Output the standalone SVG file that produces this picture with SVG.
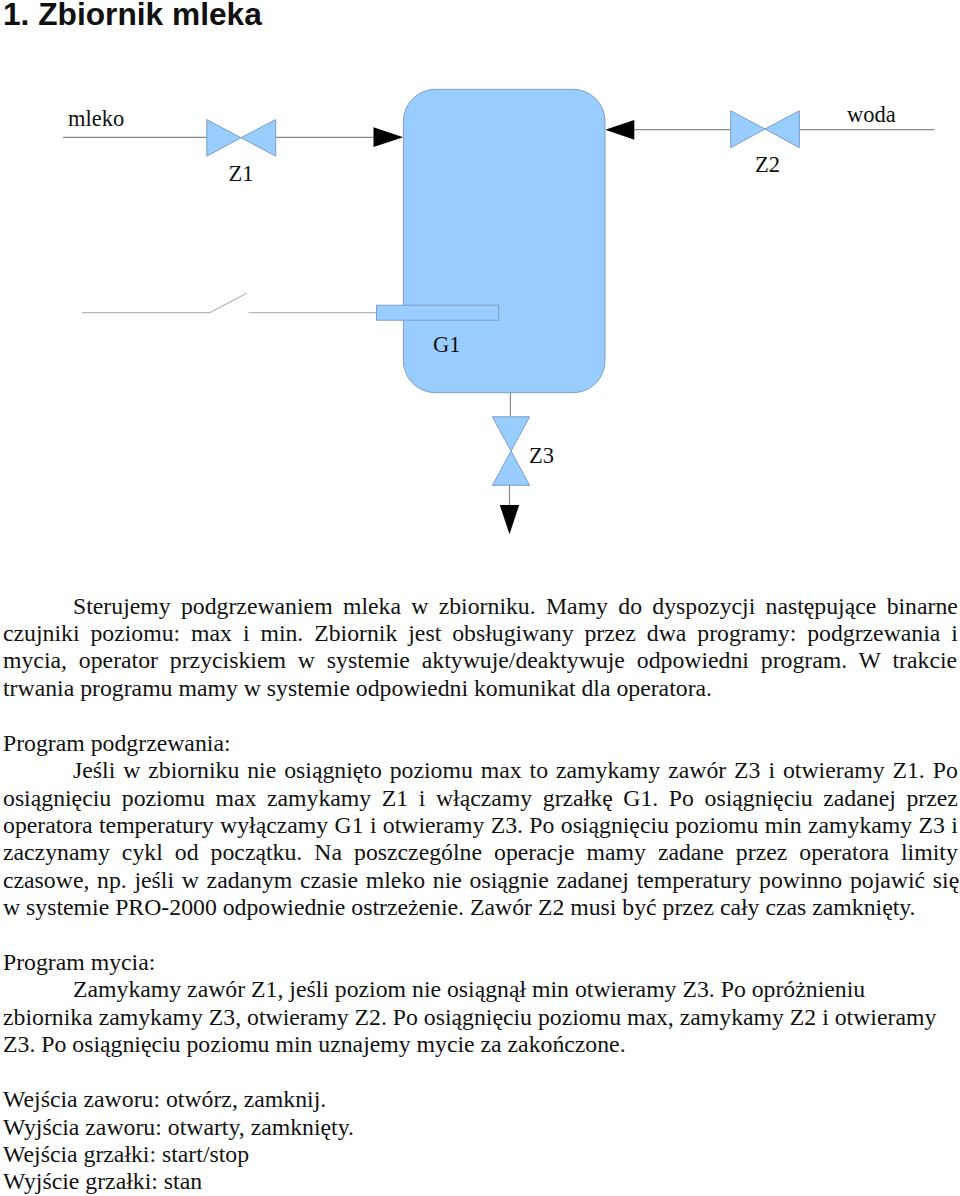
<svg xmlns="http://www.w3.org/2000/svg" width="960" height="1196" viewBox="0 0 960 1196">
<style>
.t{font-family:"Liberation Serif","Times New Roman",serif;font-size:23.75px;fill:#111}
.l{font-family:"Liberation Serif","Times New Roman",serif;font-size:22.5px;fill:#111}
.h{font-family:"Liberation Sans",Arial,sans-serif;font-size:31.7px;font-weight:bold;fill:#111}
.s{fill:#99ccff;stroke:#7b9fc6;stroke-width:1}
.c{fill:none;stroke:#8a8a8a;stroke-width:1.2}
.w{fill:none;stroke:#b8b8b8;stroke-width:1.2}
.a{fill:#000;stroke:none}
</style>
<rect width="960" height="1196" fill="#fff"/>
<text class="h" x="3" y="25">1. Zbiornik mleka</text>
<g id="connectors">
<path class="c" d="M63 137.4H207M276 137.4H374"/>
<path class="c" d="M634 129.7H730.5M799.5 129.7H934.5"/>
<path class="c" d="M510.4 393V417M509.5 485V506"/>
<path class="w" d="M82 312.6H210L247 293M248.5 312.6H377"/>
<polygon class="a" points="373.5,127.3 403.2,137.2 373.5,147"/>
<polygon class="a" points="634.3,120 605.2,129.7 634.3,139.7"/>
<polygon class="a" points="499.8,505 519.2,505 509.5,534.3"/>
</g>
<g id="tank"><rect class="s" x="403.4" y="89.3" width="201.6" height="303.4" rx="32" ry="32"/></g>
<g id="heater-G1"><rect class="s" x="376.5" y="305.2" width="122.2" height="15"/><text class="l" x="433" y="352">G1</text></g>
<g id="valve-Z1"><path class="s" d="M206.8 119.6V156.2L241 137.7ZM275.7 119.6V156.2L241 137.7Z"/><text class="l" x="228.5" y="181">Z1</text></g>
<g id="valve-Z2"><path class="s" d="M730.7 110.7V147.7L765 129ZM799.4 110.7V147.7L765 129Z"/><text class="l" x="755" y="172">Z2</text></g>
<g id="valve-Z3"><path class="s" d="M492.4 416.8H529.6L511 451ZM492.4 485.3H529.6L511 451Z"/><text class="l" x="529" y="463">Z3</text></g>
<text class="l" x="68" y="125.5">mleko</text>
<text class="l" x="847" y="122">woda</text>
<g id="body">
<text class="t" x="73" y="613.5" word-spacing="4.37">Sterujemy podgrzewaniem mleka w zbiorniku. Mamy do dyspozycji następujące binarne</text>
<text class="t" x="3" y="641" word-spacing="4.99">czujniki poziomu: max i min. Zbiornik jest obsługiwany przez dwa programy: podgrzewania i</text>
<text class="t" x="3" y="668" word-spacing="5.93">mycia, operator przyciskiem w systemie aktywuje/deaktywuje odpowiedni program. W trakcie</text>
<text class="t" x="3" y="695.5">trwania programu mamy w systemie odpowiedni komunikat dla operatora.</text>
<text class="t" x="3" y="751">Program podgrzewania:</text>
<text class="t" x="73" y="778" word-spacing="2">Jeśli w zbiorniku nie osiągnięto poziomu max to zamykamy zawór Z3 i otwieramy Z1. Po</text>
<text class="t" x="3" y="805.5" word-spacing="4.66">osiągnięciu poziomu max zamykamy Z1 i włączamy grzałkę G1. Po osiągnięciu zadanej przez</text>
<text class="t" x="3" y="833" word-spacing="0.39">operatora temperatury wyłączamy G1 i otwieramy Z3. Po osiągnięciu poziomu min zamykamy Z3 i</text>
<text class="t" x="3" y="860" word-spacing="6.11">zaczynamy cykl od początku. Na poszczególne operacje mamy zadane przez operatora limity</text>
<text class="t" x="3" y="887.5" word-spacing="1.77">czasowe, np. jeśli w zadanym czasie mleko nie osiągnie zadanej temperatury powinno pojawić się</text>
<text class="t" x="3" y="915">w systemie PRO-2000 odpowiednie ostrzeżenie. Zawór Z2 musi być przez cały czas zamknięty.</text>
<text class="t" x="3" y="969.5">Program mycia:</text>
<text class="t" x="73" y="997">Zamykamy zawór Z1, jeśli poziom nie osiągnął min otwieramy Z3. Po opróżnieniu</text>
<text class="t" x="3" y="1024.5">zbiornika zamykamy Z3, otwieramy Z2. Po osiągnięciu poziomu max, zamykamy Z2 i otwieramy</text>
<text class="t" x="3" y="1052">Z3. Po osiągnięciu poziomu min uznajemy mycie za zakończone.</text>
<text class="t" x="3" y="1107">Wejścia zaworu: otwórz, zamknij.</text>
<text class="t" x="3" y="1134.5">Wyjścia zaworu: otwarty, zamknięty.</text>
<text class="t" x="3" y="1161.5">Wejścia grzałki: start/stop</text>
<text class="t" x="3" y="1189">Wyjście grzałki: stan</text>
</g>
</svg>
